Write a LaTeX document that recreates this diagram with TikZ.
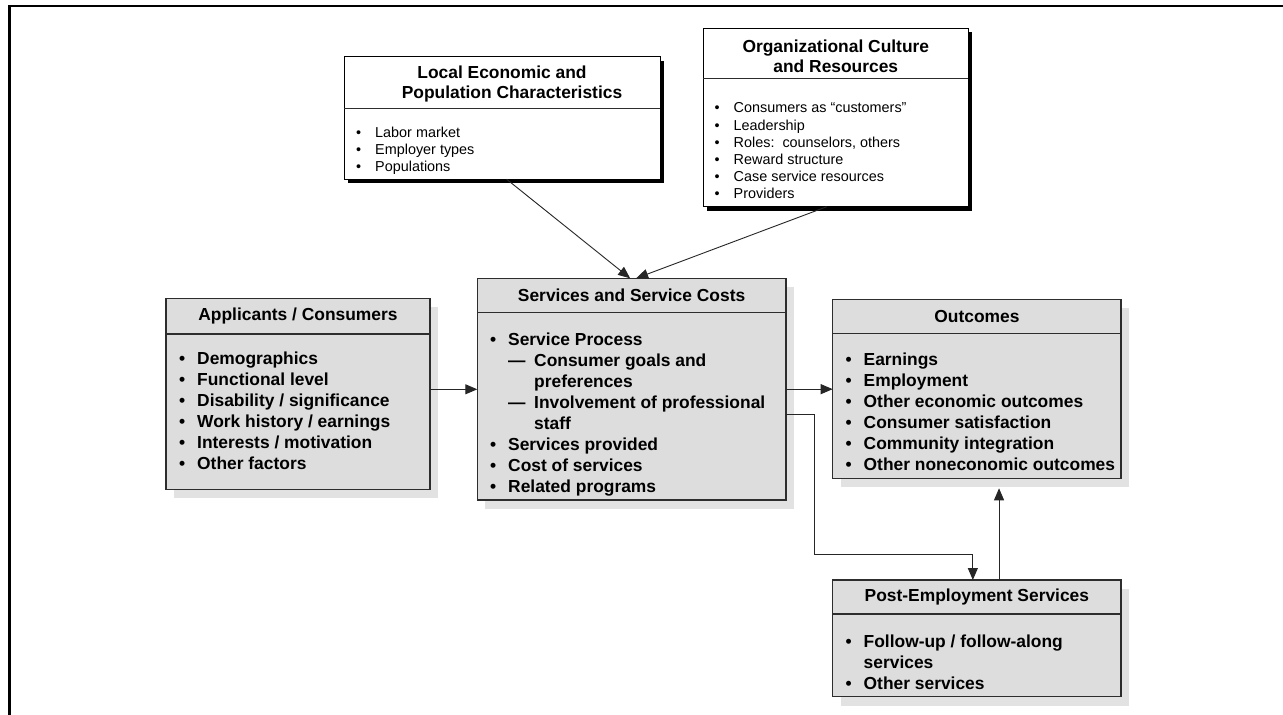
\documentclass[tikz,border=0pt]{standalone}
\usepackage{fontspec}
\setmainfont{Liberation Sans}
\usetikzlibrary{arrows.meta,shadows,calc}
\definecolor{boxgray}{RGB}{221,221,221}
\definecolor{shadowgray}{RGB}{226,226,226}
\definecolor{edgec}{RGB}{45,45,45}
\newcommand{\bb}{\makebox[18pt][l]{\textbullet}}
\newcommand{\rb}{\makebox[19pt][l]{\textbullet}}
\newcommand{\dd}{\makebox[26pt][l]{\textemdash}}
\begin{document}
\begin{tikzpicture}[x=1pt,y=-1pt,
  graybox/.style={draw=edgec, line width=1.2pt, fill=boxgray, inner sep=0pt, outer sep=0pt, anchor=north west,
    drop shadow={shadow xshift=8pt, shadow yshift=-9pt, fill=shadowgray, opacity=1}},
  whitebox/.style={draw=black, line width=1pt, fill=white, inner sep=0pt, outer sep=0pt, anchor=north west,
    drop shadow={shadow xshift=4pt, shadow yshift=-4pt, fill=black, opacity=1}},
  divider/.style={draw=edgec, line width=1.1pt},
  hdr/.style={align=center, inner sep=0pt, font=\bfseries\fontsize{17.4}{20}\selectfont},
  bbody/.style={anchor=north west, align=left, inner sep=0pt, font=\bfseries\fontsize{17.4}{21}\selectfont},
  rbody/.style={anchor=north west, align=left, inner sep=0pt, font=\fontsize{14.4}{17.2}\selectfont},
  arr/.style={draw=black!85, line width=0.9pt, -{Triangle[length=12pt,width=10pt]}},
  frame/.style={draw=black, line width=2.6pt}
]
\useasboundingbox (0,0) rectangle (1283,715);
\fill[white] (0,0) rectangle (1283,715);

% outer frame
\draw[frame] (1283,5.8) -- (9.6,5.8) -- (9.6,715);

% Local Economic and Population Characteristics
\node[whitebox, minimum width=316pt, minimum height=122.6pt] (local) at (344,56.7) {};
\draw[divider] (local.west |- 0,108.7) -- (local.east |- 0,108.7);
\node[hdr] (localh) at (502,83.5) {Local Economic and\\\hspace*{20pt}Population Characteristics};
\node[rbody] (localb) at (356,126.7) {\rb Labor market\\\rb Employer types\\\rb Populations};

% Organizational Culture and Resources
\node[whitebox, minimum width=265pt, minimum height=178.4pt] (org) at (703.3,28.3) {};
\draw[divider] (org.west |- 0,78.3) -- (org.east |- 0,78.3);
\node[hdr] (orgh) at (835.8,56.5) {Organizational Culture\\and Resources};
\node[rbody] (orgb) at (714.5,102.7) {\rb Consumers as “customers”\\\rb Leadership\\\rb Roles:\ \ counselors, others\\\rb Reward structure\\\rb Case service resources\\\rb Providers};

% Applicants / Consumers
\node[graybox, minimum width=264pt, minimum height=191pt] (apc) at (166,298.3) {};
\draw[divider] (apc.west |- 0,334) -- (apc.east |- 0,334);
\node[hdr] (apch) at (298,316.2) {Applicants / Consumers};
\node[bbody] (apcb) at (179,352) {\bb Demographics\\\bb Functional level\\\bb Disability / significance\\\bb Work history / earnings\\\bb Interests / motivation\\\bb Other factors};

% Services and Service Costs
\node[graybox, minimum width=308.7pt, minimum height=221.7pt] (svc) at (477.3,278.3) {};
\draw[divider] (svc.west |- 0,312.3) -- (svc.east |- 0,312.3);
\node[hdr] (svch) at (631.6,295.3) {Services and Service Costs};
\node[bbody] (svcb) at (490,332.7) {\bb Service Process\\\hspace*{18pt}\dd Consumer goals and\\\hspace*{44pt}preferences\\\hspace*{18pt}\dd Involvement of professional\\\hspace*{44pt}staff\\\bb Services provided\\\bb Cost of services\\\bb Related programs};

% Outcomes
\node[graybox, minimum width=288.3pt, minimum height=179pt] (out) at (832.7,299.3) {};
\draw[divider] (out.west |- 0,333.3) -- (out.east |- 0,333.3);
\node[hdr] (outh) at (976.9,316.3) {Outcomes};
\node[bbody] (outb) at (845.5,352.7) {\bb Earnings\\\bb Employment\\\bb Other economic outcomes\\\bb Consumer satisfaction\\\bb Community integration\\\bb Other noneconomic outcomes};

% Post-Employment Services
\node[graybox, minimum width=288.3pt, minimum height=116.7pt] (post) at (832.7,580) {};
\draw[divider] (post.west |- 0,614) -- (post.east |- 0,614);
\node[hdr] (posth) at (976.9,597) {Post-Employment Services};
\node[bbody] (postb) at (845.5,634.3) {\bb Follow-up / follow-along\\\hspace*{18pt}services\\\bb Other services};

% connectors
\coordinate (bend) at (814.3,554.3);
\draw[arr] ([xshift=4.7pt]local.south) -- ([xshift=-1.5pt]svc.north);
\draw[arr] ([xshift=-9pt]org.south) -- ([xshift=4.5pt]svc.north);
\draw[arr] ([yshift=4.5pt]apc.east) -- ([yshift=4.5pt]apc.east -| svc.west);
\draw[arr] (svc.east) -- (svc.east -| out.west);
\draw[arr] ([yshift=-24.8pt]svc.east) -| (bend) -| ([xshift=-4pt]post.north);
\draw[arr] ([xshift=22.2pt]post.north) -- ([xshift=22.2pt,yshift=-10pt]out.south);
\end{tikzpicture}
\end{document}
